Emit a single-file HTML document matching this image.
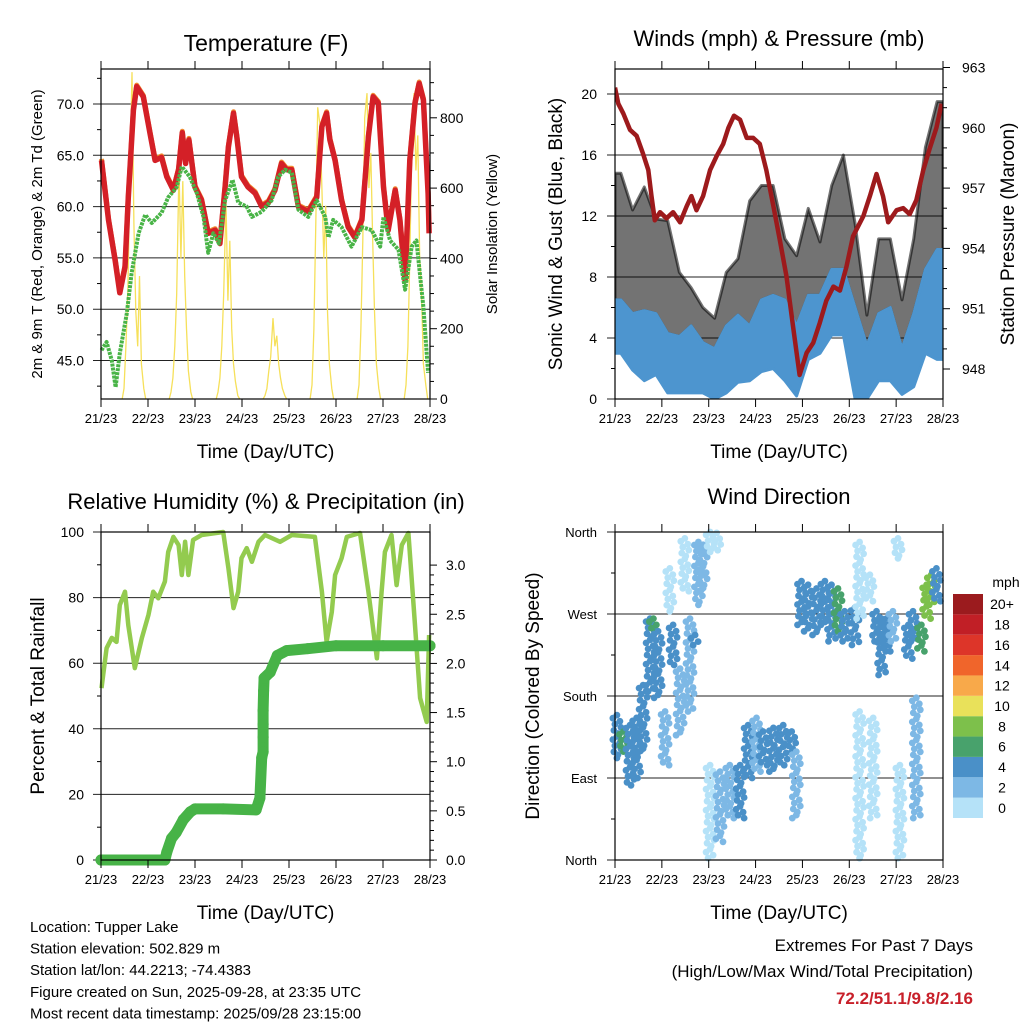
<!DOCTYPE html>
<html><head><meta charset="utf-8">
<style>
html,body{margin:0;padding:0;background:#fff;}
svg{display:block;font-family:"Liberation Sans",Arial,sans-serif;}
</style></head>
<body>
<svg id="chart" width="1024" height="1024" viewBox="0 0 1024 1024" xmlns="http://www.w3.org/2000/svg">
<rect width="1024" height="1024" fill="#fff"/>
<g id="root"></g>
</svg>
<script>
// ---------- Temperature panel data ----------
const tempDays=[0.01,0.16,0.30,0.40,0.51,0.58,0.69,0.76,0.90,1.04,1.15,1.29,1.40,1.54,1.65,1.73,1.80,1.87,2.00,2.14,2.28,2.43,2.53,2.64,2.71,2.82,2.89,2.99,3.13,3.28,3.42,3.56,3.70,3.84,3.95,4.06,4.20,4.41,4.59,4.70,4.80,4.87,4.98,5.12,5.26,5.40,5.55,5.69,5.79,5.90,6.01,6.11,6.26,6.36,6.47,6.57,6.68,6.77,6.86,6.96,6.98];
const tempRed=[64.5,58.7,54.8,51.6,54.1,60.9,69.4,71.7,70.7,67.2,64.5,64.8,62.9,61.6,63.6,67.2,64.2,66.5,61.9,60.6,57.4,57.7,56.4,61.9,65.8,69.1,66.8,62.9,61.9,61.3,60.0,60.4,61.6,64.2,63.6,63.6,60.0,59.5,60.9,67.8,69.1,66.5,64.5,60.6,58.0,57.0,58.7,66.8,70.7,70.1,61.9,57.7,61.6,58.7,52.8,64.5,70.1,72.0,70.4,61.3,57.4];
const dewDays=[0.01,0.12,0.23,0.31,0.40,0.55,0.65,0.80,0.94,1.08,1.29,1.43,1.61,1.72,1.89,2.04,2.18,2.28,2.39,2.51,2.64,2.80,2.92,3.10,3.21,3.42,3.63,3.77,3.92,4.06,4.20,4.41,4.59,4.77,4.84,4.94,5.12,5.33,5.55,5.76,5.94,6.01,6.15,6.33,6.47,6.61,6.71,6.86,6.96];
const dewGreen=[46.0,46.8,45.0,42.4,45.7,49.6,53.5,57.4,59.2,58.4,59.4,60.9,61.9,63.9,62.9,61.3,59.0,55.5,57.4,56.4,60.6,62.6,60.4,60.0,59.0,59.5,60.6,62.9,63.6,63.3,59.7,59.0,60.6,59.0,57.0,58.7,58.0,56.1,58.0,57.7,56.1,59.0,56.7,55.8,51.9,56.1,56.7,50.2,43.8];
const solarFrac=[0.45,0.49,0.53,0.57,0.61,0.66,0.70,0.74,0.78,0.82,0.86,0.91,0.95];
const solarDay0=[0,30,150,300,600,930,500,250,150,350,100,30,0];
const solarDay1=[0,20,60,150,300,660,400,620,350,200,80,20,0];
const solarDay2=[0,20,60,150,300,560,280,450,200,100,50,10,0];
const solarDay3=[0,10,30,80,120,230,150,180,100,60,30,10,0];
const solarDay4=[0,40,200,500,830,780,600,400,550,250,100,30,0];
const solarDay5=[0,40,200,450,800,870,600,700,450,250,100,30,0];
const solarDay6=[0,40,150,400,700,870,650,750,400,300,100,40,0];
const dayTickLabels=["21/23","22/23","23/23","24/23","25/23","26/23","27/23","28/23"];
const tempTicks=[45,50,55,60,65,70];
const solarTicks=[0,200,400,600,800];
// ---------- Winds panel data ----------
const presDays=[0,0.07,0.18,0.32,0.46,0.60,0.71,0.78,0.85,0.96,1.10,1.24,1.39,1.53,1.63,1.74,1.88,2.03,2.17,2.31,2.42,2.54,2.67,2.81,2.95,3.09,3.23,3.38,3.52,3.66,3.80,3.94,4.09,4.23,4.37,4.51,4.66,4.80,4.94,5.08,5.30,5.44,5.58,5.72,5.83,6.01,6.15,6.29,6.43,6.58,6.72,6.86,6.97];
const pressure=[962.0,961.2,960.7,959.9,959.6,958.7,957.9,956.6,955.4,955.8,955.5,955.8,955.3,956.1,956.6,955.9,956.6,957.9,958.6,959.2,960.0,960.6,960.4,959.5,959.5,959.2,957.9,956.1,954.4,952.6,950.1,947.7,948.8,949.3,950.3,951.4,952.1,951.9,953.1,954.6,955.6,956.6,957.7,956.6,955.3,955.9,956.0,955.7,956.4,957.9,959.0,960.0,961.2];
const windBinDays=[0.125,0.375,0.625,0.875,1.125,1.375,1.625,1.875,2.125,2.375,2.625,2.875,3.125,3.375,3.625,3.875,4.125,4.375,4.625,4.875,5.125,5.375,5.625,5.875,6.125,6.375,6.625,6.875];
const windLo=[3.0,1.9,1.2,1.6,0.4,0.4,0.4,0.4,0.0,0.4,1.1,1.2,1.8,2.0,1.2,0.2,2.6,3.0,4.2,4.2,0.0,0.0,1.2,1.2,0.3,0.8,3.0,2.6];
const windHi=[6.5,5.6,5.8,5.6,4.3,4.1,4.8,3.7,3.3,4.8,5.5,4.8,6.5,6.8,6.5,4.8,6.8,6.8,8.5,8.5,6.0,3.5,5.6,6.0,3.3,5.6,8.5,9.8];
const gustHi=[14.8,12.4,13.9,11.8,11.7,8.3,7.3,6.0,5.3,8.3,9.2,13.0,14.0,14.0,10.5,9.4,12.5,10.3,14.0,16.0,11.5,5.5,10.5,10.5,6.5,10.5,16.5,19.5];
const speedTicks=[0,4,8,12,16,20];
const presTicks=[948,951,954,957,960,963];
// ---------- RH panel data ----------
const rhDays=[0.01,0.12,0.23,0.33,0.40,0.51,0.58,0.72,0.87,1.01,1.11,1.22,1.36,1.43,1.54,1.65,1.72,1.79,1.86,1.96,2.14,2.60,2.71,2.82,2.92,2.99,3.10,3.21,3.35,3.49,3.81,4.06,4.55,4.70,4.80,4.91,4.98,5.12,5.23,5.51,5.69,5.87,5.97,6.04,6.18,6.29,6.40,6.54,6.68,6.79,6.93,6.98];
const rhValues=[52.4,64.6,67.7,66.5,77.7,81.8,71.6,58.5,67.7,74.8,81.8,79.8,84.9,93.9,98.5,96.0,86.9,97.0,86.9,97.6,99.1,100,89,76.8,81.8,92,95.1,90.9,97,99.1,97,99.1,98.5,81.8,66.5,75.6,86.9,92,98.5,99.7,81.8,61.5,81.8,93.9,99.1,83.8,96,99.7,71.6,49.4,42.1,68.6];
const rainDays=[0.0,0.5,1.0,1.36,1.40,1.50,1.60,1.75,1.90,2.0,2.6,3.3,3.38,3.42,3.45,3.45,3.45,3.45,3.46,3.47,3.6,3.75,3.95,4.4,5.0,6.0,7.0];
const rainIn=[0.0,0.0,0.0,0.0,0.08,0.22,0.28,0.41,0.49,0.52,0.52,0.51,0.63,1.04,1.10,1.25,1.38,1.52,1.72,1.85,1.91,2.08,2.13,2.15,2.18,2.18,2.18];
const rhTicks=[0,20,40,60,80,100];
const rainTicks=[0.0,0.5,1.0,1.5,2.0,2.5,3.0];
// ---------- Wind direction data ----------
const dirDays=[0.04,0.18,0.32,0.46,0.60,0.75,0.82,0.92,1.07,1.17,1.24,1.39,1.49,1.60,1.71,1.78,1.88,2.03,2.17,2.03,2.24,2.45,2.67,2.84,3.02,3.16,3.38,3.59,3.77,3.87,3.98,4.12,4.30,4.48,4.62,4.76,4.90,5.12,5.22,5.22,5.44,5.51,5.58,5.69,5.79,5.93,6.04,6.08,6.26,6.36,6.43,6.54,6.65,6.75,6.86];
const dirLo=[112,119,82,90,119,185,251,178,104,273,214,137,295,163,236,280,295,338,340,2,20,46,46,90,97,104,97,104,119,46,258,251,247,258,240,251,240,236,265,2,284,46,240,203,229,240,331,2,221,240,46,229,265,280,284];
const dirHi=[159,141,148,156,192,265,265,251,163,320,258,210,353,265,247,349,346,360,359,104,97,104,104,148,156,141,145,148,141,119,306,302,298,306,302,298,273,277,349,163,313,156,273,265,265,273,353,104,258,273,178,258,302,313,320];
const dirSpeed=[4,6,4,4,4,4,6,4,2,0,4,2,0,2,4,2,2,0,0,0,2,2,4,4,2,4,4,4,4,2,4,4,4,4,4,6,4,4,0,0,0,0,4,4,4,2,0,0,4,4,2,6,8,8,4];
const dirTickLabels=["North","East","South","West","North"];
const speedClasses=["0","2","4","6","8","10","12","14","16","18","20+"];
const speedColors=["#b5e2f8","#7db8e5","#4a90c8","#48a26c","#7dc04b","#e9e15a","#f8a94a","#f0652b","#dd3529","#c11f26","#9b1b1e"];

const NS="http://www.w3.org/2000/svg";
const root=document.getElementById('root');
function el(tag,attrs,parent,text){const e=document.createElementNS(NS,tag);for(const k in attrs)e.setAttribute(k,attrs[k]);if(text!==undefined)e.textContent=text;(parent||root).appendChild(e);return e;}
function grp(name){const g=el('g',{});return g;}
function txt(g,x,y,s,size,anchor,extra){const t=el('text',Object.assign({x:x,y:y,'font-size':size,'text-anchor':anchor||'middle',fill:'#000'},extra||{}),g,s);return t;}
function line(g,x1,y1,x2,y2,stroke,w){return el('line',{x1,y1,x2,y2,stroke:stroke||'#000','stroke-width':w||1},g);}
function pathFrom(xs,ys){return xs.map((x,i)=>(i?'L':'M')+x.toFixed(1)+','+ys[i].toFixed(1)).join('');}

function frame(g,P){
  el('rect',{x:P.x0,y:P.y0,width:P.x1-P.x0,height:P.y1-P.y0,fill:'none',stroke:'#000','stroke-width':1.2},g);
  for(let i=0;i<8;i++){const x=P.x0+i*(P.x1-P.x0)/7;
    line(g,x,P.y0-8,x,P.y0);line(g,x,P.y1,x,P.y1+8);
    const t=txt(g,x,P.y1+24,dayTickLabels[i],13);}
  const xt=txt(g,(P.x0+P.x1)/2,P.y1+59,'Time (Day/UTC)',19);
  
}
function vtitle(g,x,y,s,size,name){const t=txt(g,x,y,s,size,'middle',{transform:`rotate(-90 ${x} ${y})`});}

// ================= Panel 1: Temperature =================
(function(){
  const P={x0:101,x1:430,y0:69,y1:399};
  const g=grp('temperature-panel');
  const sx=d=>P.x0+d*(P.x1-P.x0)/7;
  const sy=T=>104+(70-T)*51.3/5;
  const ss=S=>399-S*70.3/200;
  const ti=txt(g,266,51,'Temperature (F)',23);
  tempTicks.forEach(T=>{const y=sy(T);line(g,P.x0-8,y,P.x1,y,'#222',1);
    const t=txt(g,84,y+5,T.toFixed(1),14,'end');
    line(g,P.x0-4,sy(T+2.5),P.x0,sy(T+2.5));});
  line(g,P.x0-4,sy(42.5),P.x0,sy(42.5));
  solarTicks.forEach(S=>{const y=ss(S);line(g,P.x1,y,P.x1+7,y);
    const t=txt(g,440,y+5,String(S),14,'start');});
  for(let S=50;S<950;S+=50){if(S%200)line(g,P.x1,ss(S),P.x1+4,ss(S));}
  vtitle(g,42,234,'2m & 9m T (Red, Orange) & 2m Td (Green)',15,'temp-y-axis-title');
  vtitle(g,497,234,'Solar Insolation (Yellow)',15,'solar-y-axis-title');
  const days=[solarDay0,solarDay1,solarDay2,solarDay3,solarDay4,solarDay5,solarDay6];
  days.forEach((arr,k)=>{const xs=solarFrac.map(f=>sx(k+f)),ys=arr.map(ss);
    const p=el('path',{d:pathFrom(xs,ys),fill:'none',stroke:'#f6e05a','stroke-width':1.3},g);
    });
  const po=el('path',{d:pathFrom(tempDays.map(sx),tempRed.map(v=>sy(v)-1.5)),fill:'none',stroke:'#f08a30','stroke-width':5,'stroke-linejoin':'round'},g);
  
  const pr=el('path',{d:pathFrom(tempDays.map(sx),tempRed.map(sy)),fill:'none',stroke:'#d42027','stroke-width':5.5,'stroke-linejoin':'round'},g);
  
  const pg=el('path',{d:pathFrom(dewDays.map(sx),dewGreen.map(sy)),fill:'none',stroke:'#49b447','stroke-width':4,'stroke-dasharray':'3 1','stroke-linejoin':'round'},g);
  
  frame(g,P);
})();

// ================= Panel 2: Winds & Pressure =================
(function(){
  const P={x0:615,x1:943,y0:69,y1:399};
  const g=grp('winds-panel');
  const sx=d=>P.x0+d*(P.x1-P.x0)/7;
  const sv=v=>399-v*61/4;
  const sp=p=>369-(p-948)*60.3/3;
  const ti=txt(g,779,46,'Winds (mph) & Pressure (mb)',22);
  speedTicks.forEach(v=>{const y=sv(v);line(g,P.x0-8,y,P.x1,y,'#222',1);
    const t=txt(g,597,y+5,String(v),14,'end');
    if(v<20)line(g,P.x0-4,sv(v+2),P.x0,sv(v+2));});
  presTicks.forEach(p=>{const y=sp(p);line(g,P.x1,y,P.x1+7,y);
    const t=txt(g,962,y+5,String(p),14,'start');
    for(let k=1;k<3;k++)if(p+k<=963)line(g,P.x1,sp(p+k),P.x1+4,sp(p+k));});
  vtitle(g,562,234,'Sonic Wind & Gust (Blue, Black)',19,'wind-y-axis-title');
  vtitle(g,1014,234,'Station Pressure (Maroon)',19,'pressure-y-axis-title');
  const clip=el('clipPath',{id:'c2'},g);el('rect',{x:P.x0,y:P.y0,width:P.x1-P.x0,height:P.y1-P.y0},clip);
  const inner=el('g',{'clip-path':'url(#c2)'},g);
  const bx=windBinDays.map(sx);
  const xs=[P.x0].concat(bx,[P.x1]);
  function band(lo,hi,color,name,op){
    const l=[lo[0]].concat(lo,[lo[lo.length-1]]),h=[hi[0]].concat(hi,[hi[hi.length-1]]);
    const top=xs.map((x,i)=>x.toFixed(1)+','+sv(h[i]).toFixed(1));
    const bot=xs.map((x,i)=>x.toFixed(1)+','+sv(l[i]).toFixed(1)).reverse();
    const p=el('polygon',{points:top.concat(bot).join(' '),fill:color,'fill-opacity':op,stroke:color,'stroke-width':3,'stroke-linejoin':'round','stroke-opacity':op},inner);
    }
  band(windHi,gustHi,'#000','gust-band',0.55);
  band(windLo,windHi,'#4d95cf','wind-band',1);
  const pm=el('path',{d:pathFrom(presDays.map(sx),pressure.map(sp)),fill:'none',stroke:'#9d1a1c','stroke-width':4.5,'stroke-linejoin':'round'},inner);
  
  frame(g,P);
})();

// ================= Panel 3: RH & Precip =================
(function(){
  const P={x0:101,x1:430,y0:532,y1:860};
  const g=grp('humidity-panel');
  const sx=d=>P.x0+d*(P.x1-P.x0)/7;
  const sr=r=>860-r*3.28;
  const sp=v=>860-v*98.3;
  const ti=txt(g,266,509,'Relative Humidity (%) & Precipitation (in)',22);
  rhTicks.forEach(r=>{const y=sr(r);line(g,P.x0-8,y,P.x1,y,'#222',1);
    const t=txt(g,84,y+5,String(r),14,'end');
    if(r<100)line(g,P.x0-4,sr(r+10),P.x0,sr(r+10));});
  rainTicks.forEach(v=>{const y=sp(v);line(g,P.x1,y,P.x1+7,y);
    const t=txt(g,446,y+5,v.toFixed(1),14,'start');
    for(let k=1;k<5;k++)if(v<3)line(g,P.x1,sp(v+k*0.1),P.x1+4,sp(v+k*0.1));});
  vtitle(g,44,696,'Percent & Total Rainfall',19,'rh-y-axis-title');
  const rh=el('path',{d:pathFrom(rhDays.map(sx),rhValues.map(sr)),fill:'none',stroke:'#93cb4f','stroke-width':4.5,'stroke-linejoin':'round'},g);
  
  const rl=el('path',{d:pathFrom(rainDays.map(sx),rainIn.map(sp)),fill:'none',stroke:'#47b347','stroke-width':11,'stroke-linejoin':'round','stroke-linecap':'round'},g);
  
  rainDays.forEach((d,i)=>{const c=el('circle',{cx:sx(d),cy:sp(rainIn[i]),r:5.5,fill:'#47b347'},g);
    });
  frame(g,P);
})();

// ================= Panel 4: Wind direction =================
(function(){
  const P={x0:615,x1:943,y0:532,y1:860};
  const g=grp('wind-direction-panel');
  const sx=d=>P.x0+d*(P.x1-P.x0)/7;
  const sd=a=>860-a*328/360;
  const ti=txt(g,779,504,'Wind Direction',22);
  dirTickLabels.forEach((s,i)=>{const y=sd(i*90);line(g,P.x0-8,y,P.x1,y,'#222',1);
    const t=txt(g,597,y+5,s,13,'end');
    if(i<4)line(g,P.x0-4,sd(i*90+45),P.x0,sd(i*90+45));});
  vtitle(g,539,696,'Direction (Colored By Speed)',19,'direction-y-axis-title');
  const offs=[0,-4,3,-2,4,-3,1];
  dirDays.forEach((d,i)=>{
    const x=sx(d),yt=sd(dirHi[i]),yb=sd(dirLo[i]);
    const col=speedColors[Math.min(10,Math.round(dirSpeed[i]/2))];
    const n=Math.max(1,Math.round((yb-yt)/3));
    for(let k=0;k<=n;k++){
      const y=yt+(yb-yt)*k/n;
      const c=el('circle',{cx:(x+offs[k%7]).toFixed(1),cy:y.toFixed(1),r:3.4,fill:col},g);
      
      
    }
  });
  frame(g,P);
  const cb=grp('speed-colorbar');
  const h=(818-594)/11;
  speedClasses.forEach((s,i)=>{const y=818-(i+1)*h;
    const r=el('rect',{x:953,y:y,width:30,height:h,fill:speedColors[i]},cb);
    
    const t=txt(cb,1002,y+h/2+5,s,14,'middle');});
  const u=txt(cb,1006,587,'mph',14,'middle');
})();

// ================= Footer text =================
(function(){
  const g=grp('station-info');
  ['Location: Tupper Lake','Station elevation: 502.829 m','Station lat/lon: 44.2213; -74.4383','Figure created on Sun, 2025-09-28, at 23:35 UTC','Most recent data timestamp: 2025/09/28 23:15:00'].forEach((s,i)=>{
    const t=txt(g,30,932+i*21.6,s,15,'start');});
  const g2=grp('extremes-box');
  let t=txt(g2,973,951,'Extremes For Past 7 Days',17,'end');
  t=txt(g2,973,977,'(High/Low/Max Wind/Total Precipitation)',17,'end');
  t=txt(g2,973,1004,'72.2/51.1/9.8/2.16',17,'end',{fill:'#c8202a','font-weight':'bold'});
})();
</script>
</body></html>
